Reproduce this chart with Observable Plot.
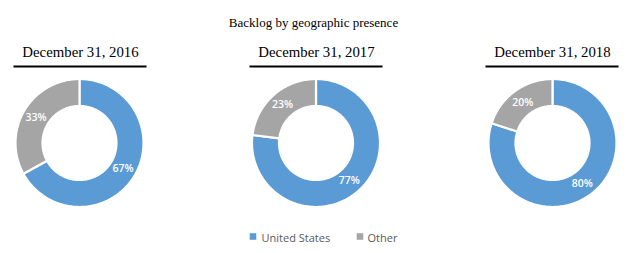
<!DOCTYPE html>
<html>
<head>
<meta charset="utf-8">
<script src="https://cdn.jsdelivr.net/npm/d3@7"></script>
<script src="https://cdn.jsdelivr.net/npm/@observablehq/plot@0.6"></script>
<style>
  html, body { margin: 0; padding: 0; background: #fff; }
</style>
</head>
<body>
<div id="chart"></div>
<script>
const title = "Backlog by geographic presence";
const years = ["December 31, 2016", "December 31, 2017", "December 31, 2018"];
const categories = ["United States", "Other"];
const usShare = [67, 77, 80];
const otherShare = [33, 23, 20];
const colors = ["#5B9BD5", "#A5A5A5"];

// layout
const W = 627, H = 253;
const centersX = [79, 315.5, 552];
const centerY = 142.5;
const rOuter = 64, rInner = 37, rLabel = 50.5;
const headerX = [80, 316, 552];
const headerHalf = 66.5;

const polys = [];
const labels = [];
years.forEach((yr, i) => {
  const vals = [usShare[i], otherShare[i]];
  const total = d3.sum(vals);
  let acc = 0;
  vals.forEach((v, j) => {
    const a0 = acc / total * 2 * Math.PI;
    const a1 = (acc + v) / total * 2 * Math.PI;
    acc += v;
    const id = yr + "|" + categories[j];
    const n = Math.max(4, Math.ceil((a1 - a0) / 0.02));
    for (let k = 0; k <= n; k++) {
      const a = a0 + (a1 - a0) * k / n;
      polys.push({id, cat: categories[j], x: centersX[i] + rOuter * Math.sin(a), y: centerY - rOuter * Math.cos(a)});
    }
    for (let k = n; k >= 0; k--) {
      const a = a0 + (a1 - a0) * k / n;
      polys.push({id, cat: categories[j], x: centersX[i] + rInner * Math.sin(a), y: centerY - rInner * Math.cos(a)});
    }
    const am = (a0 + a1) / 2;
    labels.push({x: centersX[i] + rLabel * Math.sin(am), y: centerY - rLabel * Math.cos(am), text: v + "%"});
  });
});

const headers = years.map((yr, i) => ({text: yr, x: headerX[i], x1: headerX[i] - headerHalf, x2: headerX[i] + headerHalf}));
const legendItems = [
  {cat: categories[0], x: 252.5, tx: 261},
  {cat: categories[1], x: 359.5, tx: 367}
];

const plot = Plot.plot({
  width: W, height: H,
  margin: 0,
  x: {domain: [0, W], range: [0, W], axis: null},
  y: {domain: [0, H], range: [0, H], axis: null},
  color: {domain: categories, range: colors},
  style: {background: "#fff"},
  marks: [
    Plot.text([title], {x: W / 2 - 0.5, y: 26, text: d => d, fontFamily: "Liberation Serif", fontSize: 13, fill: "#000", textAnchor: "middle", lineAnchor: "bottom"}),
    Plot.text(headers, {x: "x", y: 56.5, text: "text", fontFamily: "Liberation Serif", fontSize: 14.8, fill: "#000", textAnchor: "middle", lineAnchor: "bottom"}),
    Plot.ruleY(headers, {y: 66, x1: "x1", x2: "x2", stroke: "#000", strokeWidth: 2}),
    Plot.line(polys, {x: "x", y: "y", z: "id", fill: "cat", stroke: "#fff", strokeWidth: 2.2, curve: "linear-closed"}),
    Plot.text(labels, {x: "x", y: "y", text: "text", fill: "#fff", fontFamily: "Open Sans", fontSize: 10.5, fontWeight: 600}),
    Plot.dot(legendItems, {x: "x", y: 236, fill: "cat", symbol: "square", r: 3.7}),
    Plot.text(legendItems, {x: "tx", y: 241, text: "cat", fill: "#595959", fontFamily: "Open Sans", fontSize: 11, textAnchor: "start", lineAnchor: "bottom"})
  ]
});
document.getElementById("chart").appendChild(plot);
</script>
</body>
</html>
